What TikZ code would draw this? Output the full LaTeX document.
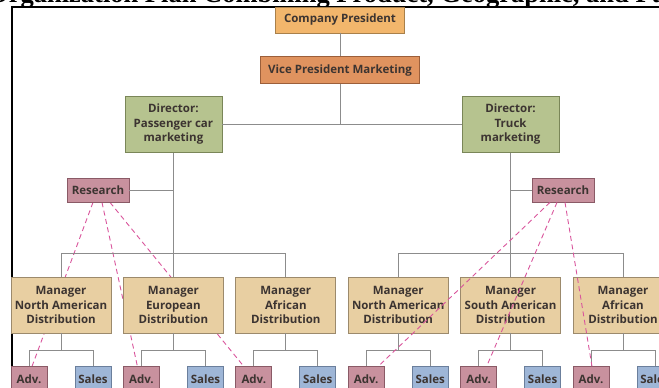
\documentclass[tikz,border=0pt]{standalone}
\usepackage{fontspec}
\setmainfont{Open Sans}
\newfontfamily\titlefont{Liberation Serif}
\usetikzlibrary{positioning}
\pgfdeclarelayer{back}
\pgfsetlayers{back,main}
\definecolor{presfill}{HTML}{F2B66C}
\definecolor{presline}{HTML}{A9804A}
\definecolor{vpfill}{HTML}{E0935F}
\definecolor{vpline}{HTML}{9C5F3A}
\definecolor{dirfill}{HTML}{B6C38F}
\definecolor{dirline}{HTML}{7A8658}
\definecolor{resfill}{HTML}{C8919E}
\definecolor{resline}{HTML}{8A5A66}
\definecolor{mgrfill}{HTML}{E8CFA2}
\definecolor{mgrline}{HTML}{9C8A6C}
\definecolor{salesfill}{HTML}{9EB6D7}
\definecolor{salesline}{HTML}{6B7F9C}
\definecolor{linkgray}{HTML}{8C8C8C}
\definecolor{dashpink}{HTML}{D9559C}
\definecolor{txtcol}{HTML}{3C3431}
\begin{document}
\begin{tikzpicture}[x=1pt, y=-1pt, node distance=11.6pt,
  unit/.style = {draw, line width=0.8pt, inner sep=0pt, align=center, text=txtcol,
                 font=\fontsize{11.5}{14.5}\selectfont\bfseries},
  pres/.style = {unit, fill=presfill, draw=presline, minimum width=129pt, minimum height=26pt},
  vice/.style = {unit, fill=vpfill, draw=vpline, minimum width=159pt, minimum height=27pt},
  dir/.style = {unit, fill=dirfill, draw=dirline, minimum width=97pt, minimum height=56pt},
  res/.style = {unit, fill=resfill, draw=resline, minimum width=62pt, minimum height=24pt},
  mgr/.style = {unit, fill=mgrfill, draw=mgrline, minimum width=100pt, minimum height=56pt},
  adv/.style = {unit, fill=resfill, draw=resline, minimum width=36pt, minimum height=24pt},
  sales/.style = {unit, fill=salesfill, draw=salesline, minimum width=36pt, minimum height=24pt},
  link/.style = {draw=linkgray, line width=0.9pt},
  dashlink/.style = {draw=dashpink, line width=0.9pt, dash pattern=on 5pt off 3.5pt}]
	\useasboundingbox (0,0) rectangle (659,388);
	\clip (0,0) rectangle (659,388);
	\node[anchor=base west, inner sep=0pt, font=\titlefont\bfseries\fontsize{26.5}{30}\selectfont] (title) at (-12,2) {Organization Plan Combining Product, Geographic, and Fu};
	\draw[line width=1.2pt] (12,388) -- (12,7) -- (659,7);
	% managers
	\node[mgr] (m1) at (61,305) {Manager\\North American\\Distribution};
	\node[mgr, right=of m1] (m2) {Manager\\European\\Distribution};
	\node[mgr, right=of m2] (m3) {Manager\\African\\Distribution};
	\node[mgr, right=of m3] (m4) {Manager\\North American\\Distribution};
	\node[mgr, right=of m4] (m5) {Manager\\South American\\Distribution};
	\node[mgr, right=of m5] (m6) {Manager\\African\\Distribution};
	% top
	\node[pres] (cp) at (340,20) {Company President};
	\node[vice, below=23pt of cp] (vp) {Vice President Marketing};
	\node[dir, above=124pt of m2] (d1) {Director:\\Passenger car\\marketing};
	\node[dir, above=124pt of m5] (d2) {Director:\\Truck\\marketing};
	\node[res] (r1) at (98,190) {Research};
	\node[res] (r2) at (563,190) {Research};
	% adv. and sales units
	\node[adv, below=33pt of m1.south west, anchor=north west] (a1) {Adv.};
	\node[sales, below=33pt of m1.south east, anchor=north east] (s1) {Sales};
	\node[adv, below=33pt of m2.south west, anchor=north west] (a2) {Adv.};
	\node[sales, below=33pt of m2.south east, anchor=north east] (s2) {Sales};
	\node[adv, below=33pt of m3.south west, anchor=north west] (a3) {Adv.};
	\node[sales, below=33pt of m3.south east, anchor=north east] (s3) {Sales};
	\node[adv, below=33pt of m4.south west, anchor=north west] (a4) {Adv.};
	\node[sales, below=33pt of m4.south east, anchor=north east] (s4) {Sales};
	\node[adv, below=33pt of m5.south west, anchor=north west] (a5) {Adv.};
	\node[sales, below=33pt of m5.south east, anchor=north east] (s5) {Sales};
	\node[adv, below=33pt of m6.south west, anchor=north west] (a6) {Adv.};
	\node[sales, below=33pt of m6.south east, anchor=north east] (s6) {Sales};
	\coordinate (topbar) at (0,253);
	\coordinate (lowbar) at (0,350);
	% solid lines
	\draw[link] (cp) -- (vp);
	\draw[link] (d1) -- (d2);
	\draw[link] (vp) -- (vp |- d1);
	\draw[link] (r1) -- (r1 -| d1);
	\draw[link] (r2) -- (r2 -| d2);
	\draw[link] (d1) -- (m2);
	\draw[link] (d2) -- (m5);
	\draw[link] (m1) -- (m1 |- topbar) -- (m3 |- topbar) -- (m3);
	\draw[link] (m4) -- (m4 |- topbar) -- (m6 |- topbar) -- (m6);
	\draw[link] (m1) -- (m1 |- lowbar);
	\draw[link] (m2) -- (m2 |- lowbar);
	\draw[link] (m3) -- (m3 |- lowbar);
	\draw[link] (m4) -- (m4 |- lowbar);
	\draw[link] (m5) -- (m5 |- lowbar);
	\draw[link] (m6) -- (m6 |- lowbar);
	\draw[link] (a1) -- (a1 |- lowbar) -- (s1 |- lowbar) -- (s1);
	\draw[link] (a2) -- (a2 |- lowbar) -- (s2 |- lowbar) -- (s2);
	\draw[link] (a3) -- (a3 |- lowbar) -- (s3 |- lowbar) -- (s3);
	\draw[link] (a4) -- (a4 |- lowbar) -- (s4 |- lowbar) -- (s4);
	\draw[link] (a5) -- (a5 |- lowbar) -- (s5 |- lowbar) -- (s5);
	\draw[link] (a6) -- (a6 |- lowbar) -- (s6 |- lowbar) -- (s6);
	% research ties
	\begin{pgfonlayer}{back}
	\draw[dashlink] ([xshift=-5pt]r1.south) -- ([xshift=3pt]a1.north);
	\draw[dashlink] ([xshift=4pt]r1.south) -- ([xshift=-4pt]a2.north);
	\draw[dashlink] ([xshift=12pt]r1.south) -- ([xshift=-10pt]a3.north);
	\end{pgfonlayer}
	\draw[dashlink] ([xshift=-13pt]r2.south) -- ([xshift=12pt]a4.north);
	\draw[dashlink] ([xshift=-6pt]r2.south) -- ([xshift=8pt]a5.north);
	\draw[dashlink] ([xshift=2pt]r2.south) -- ([xshift=1pt]a6.north);
\end{tikzpicture}
\end{document}
